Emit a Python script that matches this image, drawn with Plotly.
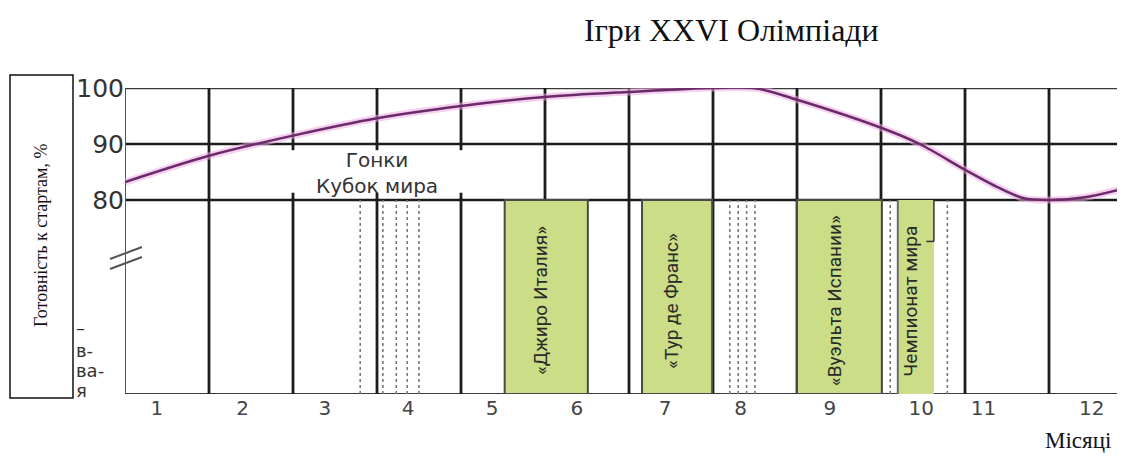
import plotly.graph_objects as go

# ---------------- data ----------------
# readiness curve (month position, % readiness)
curve_month = [0.0, 1.0, 2.0, 3.0, 4.0, 5.0, 6.0, 7.0, 7.52, 8.0, 9.0, 9.46, 10.0, 10.4, 10.7, 11.0, 11.43, 11.9]
curve_value = [83.2, 87.9, 91.5, 94.6, 96.8, 98.4, 99.3, 100.0, 99.9, 97.9, 92.9, 90.0, 85.4, 82.2, 80.3, 80.0, 80.5, 82.1]

# month tick labels (as printed under the chart)
month_labels = ["1", "2", "3", "4", "5", "6", "7", "8", "9", "10", "11", "12"]
month_label_pos = [0.38, 1.40, 2.38, 3.37, 4.37, 5.38, 6.43, 7.33, 8.39, 9.48, 10.22, 11.51]

# y ticks
y_ticks = [80, 90, 100]

# month boundaries (grid)
top_full_lines = [1, 5, 6, 7, 8, 9, 10, 11]
top_gap_lines = [2, 3, 4]
bottom_lines = [1, 2, 3, 4, 6, 7, 8, 9, 10, 11]
dotted_lines = [2.80, 3.07, 3.23, 3.36, 3.50, 7.20, 7.30, 7.40, 7.50, 9.11, 9.79]

# races (green blocks)
race_names = ["«Джиро Италия»", "«Тур де Франс»", "«Вуэльта Испании»", "Чемпионат мира"]
race_start = [4.52, 6.155, 8.0, 9.20]
race_end = [5.51, 6.99, 9.01, 9.63]

# ---------------- layout constants ----------------
# page body has an 8px margin, so the figure is drawn 8px right/down
FIG_W, FIG_H = 1109, 450
ML, MT, MB = 117, 80, 64
PW = FIG_W - ML            # plot width (px)
PH = FIG_H - MT - MB       # plot height (px) = 306
X_MAX = PW / 84.0          # 84 px per month
Y_MIN = 80 - 194 / 5.6
GRID = "#1c1c1c"
GREEN = "#cbdd86"


def px(xr):
    """reference-image x pixel -> paper coordinate"""
    return (xr - 125) / PW


def py(yr):
    """reference-image y pixel -> paper coordinate"""
    return (394 - yr) / PH


fig = go.Figure()

# glow + curve
fig.add_trace(go.Scatter(x=curve_month, y=curve_value, mode="lines",
                         line=dict(color="rgba(236,170,225,0.55)", width=7, shape="spline", smoothing=0.9),
                         hoverinfo="skip", showlegend=False))
fig.add_trace(go.Scatter(x=curve_month, y=curve_value, mode="lines",
                         line=dict(color="#6b2a69", width=2.5, shape="spline", smoothing=0.9),
                         showlegend=False))

shapes = []
# horizontal lines
for yv in [90, 80]:
    shapes.append(dict(type="line", xref="x", yref="y", x0=0, x1=X_MAX, y0=yv, y1=yv,
                       line=dict(color=GRID, width=2.5), layer="below"))
# borders
shapes.append(dict(type="line", xref="x", yref="y", x0=0, x1=X_MAX, y0=100, y1=100,
                   line=dict(color="#3a3a3a", width=2.5), layer="below"))
shapes.append(dict(type="line", xref="x", yref="y", x0=0, x1=X_MAX, y0=Y_MIN, y1=Y_MIN,
                   line=dict(color="#3a3a3a", width=2), layer="below"))
shapes.append(dict(type="line", xref="x", yref="y", x0=0, x1=0, y0=Y_MIN, y1=100,
                   line=dict(color="#555555", width=2), layer="below"))

# vertical grid lines - top section
for m in top_full_lines:
    shapes.append(dict(type="line", xref="x", yref="y", x0=m, x1=m, y0=80, y1=100,
                       line=dict(color=GRID, width=2.8), layer="below"))
for m in top_gap_lines:
    shapes.append(dict(type="line", xref="x", yref="y", x0=m, x1=m, y0=88.9, y1=100,
                       line=dict(color=GRID, width=2.8), layer="below"))
    shapes.append(dict(type="line", xref="x", yref="y", x0=m, x1=m, y0=80, y1=81.3,
                       line=dict(color=GRID, width=2.8), layer="below"))
# vertical grid lines - bottom section
for m in bottom_lines:
    shapes.append(dict(type="line", xref="x", yref="y", x0=m, x1=m, y0=Y_MIN, y1=80,
                       line=dict(color=GRID, width=2.8), layer="below"))
# dotted lines
for m in dotted_lines:
    shapes.append(dict(type="line", xref="x", yref="y", x0=m, x1=m, y0=Y_MIN, y1=80,
                       line=dict(color="#777777", width=1.6, dash="dot"), layer="below"))

# race blocks
annotations = []
for i, (name, s, e) in enumerate(zip(race_names, race_start, race_end)):
    if i < 3:
        shapes.append(dict(type="rect", xref="x", yref="y", x0=s, x1=e, y0=Y_MIN, y1=80,
                           fillcolor=GREEN, line=dict(color="#4a4a4a", width=2), layer="below"))
    else:
        shapes.append(dict(type="rect", xref="x", yref="y", x0=s, x1=e, y0=Y_MIN, y1=80,
                           fillcolor=GREEN, line=dict(width=0), layer="below"))
        shapes.append(dict(type="line", xref="x", yref="y", x0=s, x1=s, y0=Y_MIN, y1=80,
                           line=dict(color="#6a6a6a", width=2), layer="below"))
        shapes.append(dict(type="line", xref="x", yref="y", x0=e, x1=e, y0=72.6, y1=80,
                           line=dict(color="#333333", width=1.5), layer="below"))
        shapes.append(dict(type="line", xref="x", yref="y", x0=e - 0.09, x1=e, y0=72.6, y1=72.6,
                           line=dict(color="#333333", width=1.5), layer="below"))
    annotations.append(dict(x=(s + e) / 2, y=62.0, xref="x", yref="y", text=name, showarrow=False,
                            textangle=-90, xshift=-5, xanchor="center", yanchor="middle",
                            font=dict(family="Roboto", size=19, color="#2a2a2a")))

# "Гонки / Кубок мира"
annotations.append(dict(x=3.0, y=84.9, xref="x", yref="y", text="Гонки<br>Кубок мира", showarrow=False,
                        xanchor="center", yanchor="middle",
                        font=dict(family="DejaVu Sans", size=20, color="#333333")))

# title + arrow
annotations.append(dict(x=px(731), y=py(30), xref="paper", yref="paper", text="Ігри XXVI Олімпіади",
                        showarrow=False, xanchor="center", yanchor="middle",
                        font=dict(family="Liberation Serif", size=32, color="#111111")))
annotations.append(dict(x=7.52, y=100.5, xref="x", yref="y", text="", showarrow=True,
                        ax=0, ay=-30, arrowhead=2, arrowsize=1.4, arrowwidth=2, arrowcolor="#1a1a1a"))

# "Місяці"
annotations.append(dict(x=px(1078), y=py(441), xref="paper", yref="paper",
                        text="Місяці", showarrow=False, xanchor="center", yanchor="middle",
                        font=dict(family="Liberation Serif", size=23, color="#111111")))

# left box with y-axis title
shapes.append(dict(type="rect", xref="paper", yref="paper",
                   x0=px(10), x1=px(73), y0=py(398), y1=py(75),
                   fillcolor="white", line=dict(color="#111111", width=1.5), layer="above"))
annotations.append(dict(x=px(41), y=py(236), xref="paper", yref="paper",
                        text="Готовність к стартам, %", showarrow=False, textangle=-90,
                        xanchor="center", yanchor="middle",
                        font=dict(family="Liberation Serif", size=18, color="#111111")))

# partly hidden text fragments next to the box
for txt, yy in [("–", 327), ("в-", 350), ("ва-", 370), ("я", 390)]:
    annotations.append(dict(x=px(74), y=py(yy), xref="paper", yref="paper",
                            text=txt, showarrow=False, xanchor="left", yanchor="middle",
                            font=dict(family="DejaVu Sans", size=18, color="#333333")))

# axis break marks
for off in [0, 10]:
    shapes.append(dict(type="line", xref="paper", yref="paper",
                       x0=px(110), x1=px(142), y0=py(259 + off), y1=py(247 + off),
                       line=dict(color="#555555", width=2), layer="above"))

fig.update_layout(
    width=FIG_W, height=FIG_H,
    margin=dict(l=ML, r=0, t=MT, b=MB),
    paper_bgcolor="white", plot_bgcolor="white",
    shapes=shapes, annotations=annotations, showlegend=False,
    xaxis=dict(range=[0, X_MAX], showgrid=False, zeroline=False, showline=False,
               tickmode="array", tickvals=month_label_pos, ticktext=month_labels, ticks="",
               tickfont=dict(family="DejaVu Sans", size=20, color="#444444"), fixedrange=True),
    yaxis=dict(range=[Y_MIN, 100], showgrid=False, zeroline=False, showline=False,
               tickmode="array", tickvals=y_ticks, ticktext=[str(v) for v in y_ticks], ticks="",
               tickfont=dict(family="DejaVu Sans", size=25, color="#333333"), fixedrange=True),
)

fig.write_html("out.html")
